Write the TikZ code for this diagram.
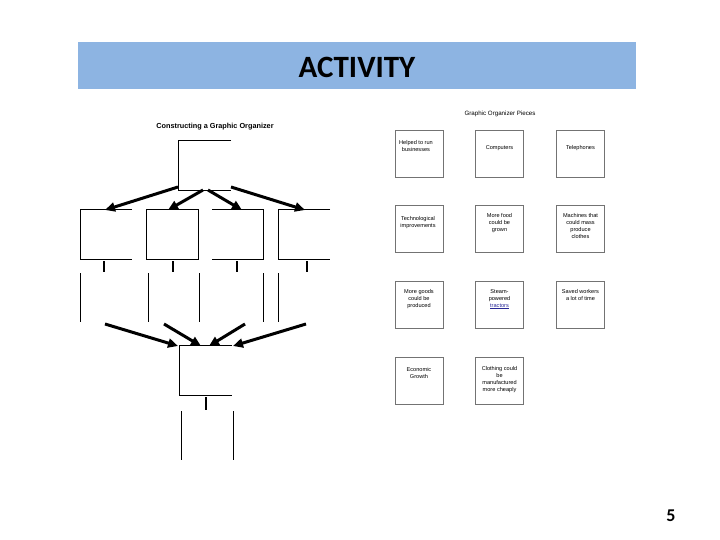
\documentclass[tikz,border=0pt]{standalone}
\usepackage{fontspec}
\setmainfont{Liberation Sans}
\newfontfamily\hdfont{Carlito}
\usetikzlibrary{arrows.meta}
\definecolor{hdblue}{RGB}{141,180,226}
\definecolor{linkblue}{RGB}{40,40,150}
\begin{document}
\begin{tikzpicture}[x=1pt,y=-1pt,
  boxline/.style={line width=0.9pt},
  bigarrow/.style={line width=3pt,-{Triangle[length=10pt,width=9pt]}},
  tickmark/.style={line width=2.8pt},
  piece/.style={draw=black!55,line width=0.8pt,minimum width=48pt,minimum height=47pt,inner sep=0pt},
  piecetext/.style={font=\fontsize{5.6}{7}\selectfont,align=center,anchor=north,inner sep=0pt}]
\useasboundingbox (0,0) rectangle (720,540);

% header
\node[fill=hdblue,minimum width=558pt,minimum height=47pt,anchor=north west,inner sep=0pt] (header) at (78,42) {};
\node[font=\hdfont\bfseries\fontsize{31}{36}\selectfont] (title) at (357,67) {ACTIVITY};

% left organizer
\node[font=\bfseries\fontsize{7.3}{9}\selectfont] (ltitle) at (215,127) {Constructing a Graphic Organizer};

\draw[boxline] (231,140) -| (178,190) -- (231,190);
\coordinate (tb1) at (178,187);
\coordinate (tb2) at (203,190);
\coordinate (tb3) at (208,190);
\coordinate (tb4) at (231,187);

\draw[boxline] (132,209) -| (80,259) -- (132,259);
\draw[boxline] (146,209) rectangle (198,259);
\draw[boxline] (212,209) -| (263,259) -- (212,259);
\draw[boxline] (330,209) -| (278,259) -- (330,259);
\coordinate (b1) at (105,210);
\coordinate (b2) at (168,210);
\coordinate (b3) at (242,210);
\coordinate (b4) at (305,210);

\draw[bigarrow] (tb1) -- (b1);
\draw[bigarrow] (tb2) -- (b2);
\draw[bigarrow] (tb3) -- (b3);
\draw[bigarrow] (tb4) -- (b4);

\foreach \x in {104,173,237,307} \draw[tickmark] (\x,261) -- (\x,272);
\foreach \x in {80,148,199,263,278} \draw[boxline] (\x,273) -- (\x,322);

\coordinate (s1) at (105,324);
\coordinate (s2) at (164,324);
\coordinate (s3) at (245,324);
\coordinate (s4) at (306,324);
\coordinate (c1) at (178,346);
\coordinate (c2) at (201,346);
\coordinate (c3) at (209,346);
\coordinate (c4) at (233,346);
\draw[bigarrow] (s1) -- (c1);
\draw[bigarrow] (s2) -- (c2);
\draw[bigarrow] (s3) -- (c3);
\draw[bigarrow] (s4) -- (c4);

\draw[boxline] (232,345) -| (179,395) -- (232,395);
\draw[tickmark] (206,397) -- (206,410);
\draw[boxline] (181,411) -- (181,460);
\draw[boxline] (233,411) -- (233,460);

% right pieces
\node[font=\fontsize{6.2}{7}\selectfont] (rtitle) at (500,114) {Graphic Organizer Pieces};

\node[piece] (p11) at (419,153.5) {};
\node[piece] (p12) at (499.5,153.5) {};
\node[piece] (p13) at (580.5,153.5) {};
\node[piece] (p21) at (419,228.5) {};
\node[piece] (p22) at (499.5,228.5) {};
\node[piece] (p23) at (580.5,228.5) {};
\node[piece] (p31) at (419,304.5) {};
\node[piece] (p32) at (499.5,304.5) {};
\node[piece] (p33) at (580.5,304.5) {};
\node[piece] (p41) at (419,380.5) {};
\node[piece] (p42) at (499.5,380.5) {};

\node[piecetext] (t11) at (416,140) {Helped to run\\businesses};
\node[piecetext] (t12) at (499.5,145) {Computers};
\node[piecetext] (t13) at (580.5,145) {Telephones};
\node[piecetext] (t21) at (418,216) {Technological\\improvements};
\node[piecetext] (t22) at (499.5,213) {More food\\could be\\grown};
\node[piecetext] (t23) at (580.5,213) {Machines that\\could mass\\produce\\clothes};
\node[piecetext] (t31) at (419,289) {More goods\\could be\\produced};
\node[piecetext] (t32) at (499.5,289) {Steam-\\powered\\\textcolor{linkblue}{\underline{tractors}}};
\node[piecetext] (t33) at (580.5,289) {Saved workers\\a lot of time};
\node[piecetext] (t41) at (419,367) {Economic\\Growth};
\node[piecetext] (t42) at (499.5,366) {Clothing could\\be\\manufactured\\more cheaply};

% page number
\node[font=\hdfont\bfseries\fontsize{18}{20}\selectfont] (pagenum) at (671,516) {5};
\end{tikzpicture}
\end{document}
